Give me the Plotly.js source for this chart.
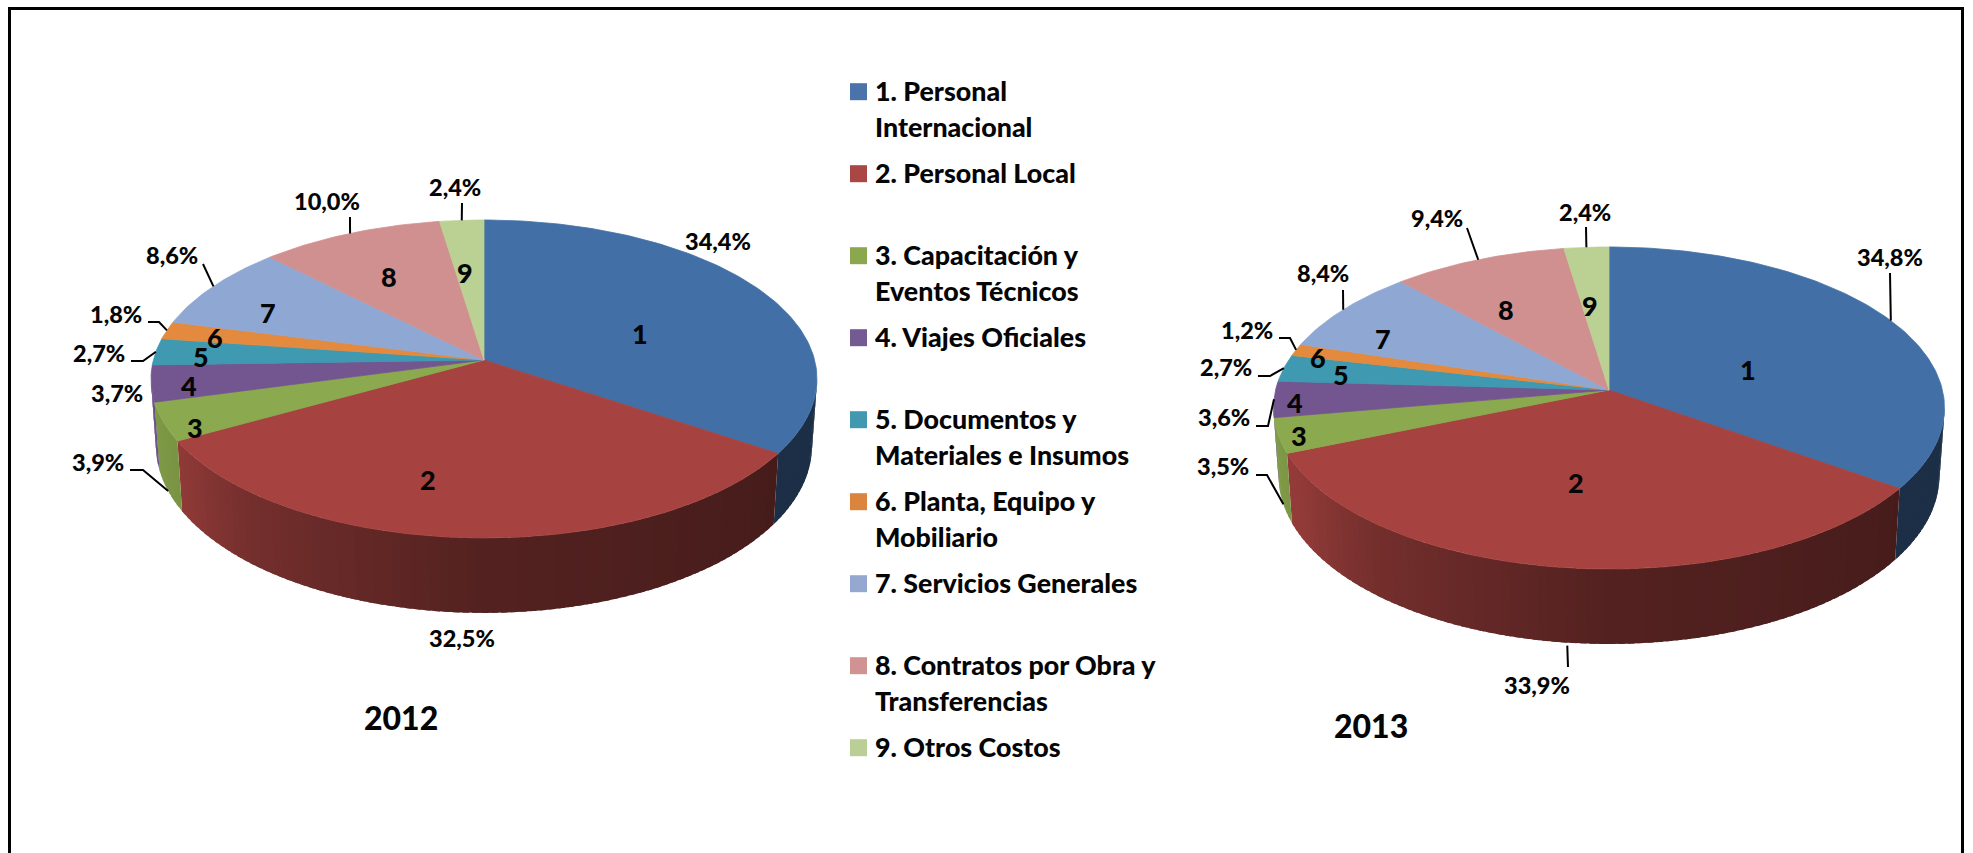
<!DOCTYPE html>
<html>
<head>
<meta charset="utf-8">
<script src="https://cdn.plot.ly/plotly-3.0.1.min.js"></script>
<style>html,body{margin:0;padding:0;background:#fff}#chart{width:1973px;height:853px}</style>
</head>
<body>
<div id="chart"></div>
<script>
// ---- data ----
const categories = [
  "1. Personal<br>Internacional",
  "2. Personal Local",
  "3. Capacitación y<br>Eventos Técnicos",
  "4. Viajes Oficiales",
  "5. Documentos y<br>Materiales e Insumos",
  "6. Planta, Equipo y<br>Mobiliario",
  "7. Servicios Generales",
  "8. Contratos por Obra y<br>Transferencias",
  "9. Otros Costos"
];
const sliceNumbers = ["1","2","3","4","5","6","7","8","9"];
const values2012 = [34.4, 32.5, 3.9, 3.7, 2.7, 1.8, 8.6, 10.0, 2.4];
const values2013 = [34.8, 33.9, 3.5, 3.6, 2.7, 1.2, 8.4, 9.4, 2.4];
const labels2012 = ["34,4%","32,5%","3,9%","3,7%","2,7%","1,8%","8,6%","10,0%","2,4%"];
const labels2013 = ["34,8%","33,9%","3,5%","3,6%","2,7%","1,2%","8,4%","9,4%","2,4%"];

// ---- style ----
const topColors = ["#4270A6","#A64340","#8BA94E","#73558F","#3E99B1","#E38A3E","#8FA8D3","#D19090","#BBD093"];
const legendColors = ["#4A74A9","#AA4644","#8CA84F","#735A93","#4298B0","#DA843E","#95A9D0","#D19292","#BACF96"];
const FONT = "Lato, Carlito, Calibri, sans-serif";
const INK = "#050505";
const WEIGHT = 900;

// ---- geometry (page pixels; apex + projective disc) ----
const geo2012 = {cx:484, cy:360, A:330.6, B:156.7, k:0.1194, D:66};
const geo2013 = {cx:1609, cy:390, A:333.4, B:159, k:0.1118, D:66.6};

// ---- label placement, by slice order ----
const place2012 = {
  num:  [[640,333],[428,479],[195,427],[189,385],[201,356],[215,337],[268,312],[389,276],[465,272]],
  pct:  [[718,241],[462,638],[98,462],[117,393],[99,353],[116,314],[172,255],[327,201],[455,187]],
  lead: [null,null,{p:[[130,470],[143,470]],w:1},null,{p:[[131,361],[143,361]],w:0},
         {p:[[148,322],[159,322]],w:0},{p:[[203,264]],w:0},{p:[[350,217]],w:0},{p:[[462,203]],w:0}],
  year: {text:"2012", x:401, y:717}
};
const place2013 = {
  num:  [[1748,369],[1576,482],[1299,435],[1295,402],[1341,374],[1318,357],[1383,338],[1506,309],[1590,305]],
  pct:  [[1890,257],[1537,685],[1223,466],[1224,417],[1226,367],[1247,330],[1323,273],[1437,218],[1585,212]],
  lead: [{p:[[1890,273]],w:0},{p:[[1568,667]],w:1,gap:3},{p:[[1256,475],[1267,475]],w:1},{p:[[1256,426],[1268,426]],w:0},
         {p:[[1258,376],[1270,376]],w:0},{p:[[1279,338],[1290,338]],w:0},{p:[[1343,290]],w:0},{p:[[1467,228]],w:0},{p:[[1586,227]],w:0}],
  year: {text:"2013", x:1371, y:725}
};
const legendX = 858.5, legendTextX = 873, legendTop = 91.7, legendStep = 82, legendLine = 36, legendTextLift = 1;

// ---- helpers ----
const rad = d => d*Math.PI/180;
function rim(g, deg, wall){
  const s = Math.sin(rad(deg)), c = Math.cos(rad(deg));
  const den = 1 + g.k*c, w = wall||0;
  return [g.cx + g.A*s/den*(1-0.015*w), g.cy - g.B*c/den + w*g.D/den];
}
function mixDark(hex, f){
  const n = parseInt(hex.slice(1),16);
  return "rgb("+[(n>>16)&255,(n>>8)&255,n&255].map(v=>Math.round(v*f)).join(",")+")";
}
function shade(deg){
  const pts = [[90,.42],[124,.42],[180,.50],[220,.70],[240,.87],[270,.95]];
  for(let i=1;i<pts.length;i++) if(deg<=pts[i][0]){
    const t=(deg-pts[i-1][0])/(pts[i][0]-pts[i-1][0]);
    return pts[i-1][1]+t*(pts[i][1]-pts[i-1][1]);
  }
  return .95;
}
function poly(xy, color, name, w){
  return {type:"scatter", mode:"lines", x:xy.map(p=>p[0]), y:xy.map(p=>p[1]), fill:"toself",
    fillcolor:color, line:{color:color,width:w}, hoverinfo:"skip", showlegend:false, name:name};
}

const traces = [], annotations = [];
function text(str,x,y,size,anchor){
  annotations.push({text:str,x:x,y:y,xref:"x",yref:"y",showarrow:false,xanchor:anchor||"center",yanchor:"middle",
    font:{family:FONT,size:size,color:INK,weight:WEIGHT}});
}

function drawPie(values, labels, g, pl){
  const total = values.reduce((a,b)=>a+b,0);
  let acc = 0;
  const ranges = values.map(v=>{const a=acc; acc+=v; return [a/total*360, acc/total*360];});
  const visA = Math.acos(-g.k)*180/Math.PI, visB = 360-visA;
  // side wall: strips painted in order, each running under the next
  ranges.forEach((r,i)=>{
    const a=Math.max(r[0],visA), b=Math.min(r[1],visB);
    if(b<=a) return;
    const n=Math.max(1,Math.ceil((b-a)/1.5));
    for(let j=0;j<n;j++){
      const t0=a+(b-a)*j/n, t1=a+(b-a)*(j+1)/n, col=mixDark(topColors[i],shade((t0+t1)/2));
      const t2=Math.min(b,t1+1);
      traces.push(poly([rim(g,t0),rim(g,t2),rim(g,t2,1),rim(g,t0,1),rim(g,t0)],col,sliceNumbers[i]+" wall",0));
    }
  });
  // top face
  ranges.forEach((r,i)=>{
    const n=Math.max(2,Math.ceil(r[1]-r[0]));
    const xy=[[g.cx,g.cy]];
    for(let j=0;j<=n;j++) xy.push(rim(g,r[0]+(r[1]-r[0])*j/n));
    xy.push([g.cx,g.cy]);
    traces.push(poly(xy,topColors[i],categories[i].replace("<br>"," "),0.8));
  });
  // labels + leaders
  ranges.forEach((r,i)=>{
    text(sliceNumbers[i],pl.num[i][0],pl.num[i][1],SIZE_NUM);
    text(labels[i],pl.pct[i][0],pl.pct[i][1],SIZE_PCT);
    const L=pl.lead[i];
    if(L){
      const end=rim(g,(r[0]+r[1])/2,L.w);
      if(L.gap) end[1]+=L.gap;
      const xy=L.p.concat([end]);
      traces.push({type:"scatter",mode:"lines",x:xy.map(p=>p[0]),y:xy.map(p=>p[1]),
        line:{color:"#000",width:2},hoverinfo:"skip",showlegend:false});
    }
  });
  text(pl.year.text,pl.year.x,pl.year.y,SIZE_YEAR);
}

const SIZE_NUM = 27, SIZE_PCT = 23.5, SIZE_LEGEND = 26.8, SIZE_YEAR = 32;
drawPie(values2012,labels2012,geo2012,place2012);
drawPie(values2013,labels2013,geo2013,place2013);

// legend
traces.push({type:"scatter",mode:"markers",
  x:categories.map(()=>legendX), y:categories.map((c,i)=>legendTop+i*legendStep),
  marker:{symbol:"square",size:17,color:legendColors,line:{width:0}},hoverinfo:"skip",showlegend:false});
categories.forEach((c,i)=>{
  c.split("<br>").forEach((line,j)=>text(line,legendTextX,legendTop-legendTextLift+i*legendStep+j*legendLine,SIZE_LEGEND,"left"));
});

const layout = {
  width:1973, height:853, margin:{l:0,r:0,t:0,b:0,pad:0},
  paper_bgcolor:"#fff", plot_bgcolor:"#fff", showlegend:false,
  xaxis:{range:[0,1973],visible:false,fixedrange:true},
  yaxis:{range:[853,0],visible:false,fixedrange:true},
  annotations:annotations,
  shapes:[{type:"path",path:"M 9.5 860 L 9.5 8.5 L 1962.5 8.5 L 1962.5 860",xref:"x",yref:"y",
    line:{color:"#000",width:3},fillcolor:"rgba(0,0,0,0)"}]
};
Plotly.newPlot("chart",traces,layout,{displayModeBar:false,staticPlot:true});
</script>
</body>
</html>
